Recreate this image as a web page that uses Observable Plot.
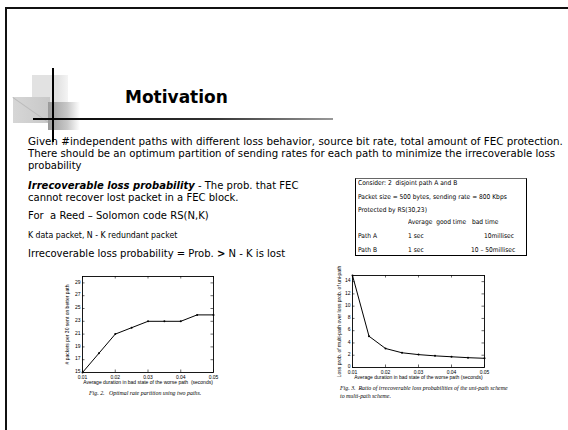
<!DOCTYPE html>
<html><head><meta charset="utf-8">
<script src="https://cdn.jsdelivr.net/npm/d3@7"></script>
<script src="https://cdn.jsdelivr.net/npm/@observablehq/plot@0.6"></script>
<style>
body{margin:0;background:#fff;}
#slide{position:relative;width:568px;height:430px;overflow:hidden;background:#fff;font-family:"DejaVu Sans",sans-serif;color:#000;}
.a{position:absolute;white-space:nowrap;transform-origin:0 0;}
.body{font-size:10.5px;line-height:12px;transform:scaleX(0.955);}
.box{font-size:6.6px;line-height:8px;transform:scaleX(0.9);}
.cap{font-family:"Liberation Serif",serif;font-style:italic;font-size:5.9px;line-height:7px;}
</style></head><body>
<div id="slide">
  <!-- slide frame -->
  <div class="a" style="left:5px;top:7px;width:600px;height:500px;border-left:2px solid #111;border-top:2px solid #111;"></div>
  <!-- decorations -->
  <div class="a" style="left:32px;top:75px;width:36px;height:42px;background:linear-gradient(90deg,#e2e2e2,#e2e2e2 70%,#f4f4f4);"></div>
  <div class="a" style="left:13px;top:97px;width:37px;height:26px;background:linear-gradient(90deg,#d6d6d6,#c8c8c8);"></div>
  <div class="a" style="left:13px;top:97px;width:44px;height:1px;background:#bbb;transform:rotate(35deg);"></div>
  <div class="a" style="left:48px;top:102px;width:32px;height:28px;background:linear-gradient(90deg,#9a9a9a,#c8c8c8 60%,#fff);"></div>
  <div class="a" style="left:33px;top:118px;width:300px;height:2px;background:linear-gradient(90deg,#000,#333 60%,#999);"></div>
  <div class="a" style="left:52px;top:68px;width:2px;height:74px;background:#000;"></div>
  <div class="a" style="left:125px;top:89px;font-weight:bold;font-size:17px;line-height:17px;">Motivation</div>

  <div class="a body" style="left:28px;top:135px;transform:scaleX(0.985);">Given #independent paths with different loss behavior, source bit rate, total amount of FEC protection.</div>
  <div class="a body" style="left:28px;top:147px;transform:scaleX(0.97);">There should be an optimum partition of sending rates for each path to minimize the irrecoverable loss</div>
  <div class="a body" style="left:28px;top:159px;">probability</div>
  <div class="a body" style="left:28px;top:179px;"><b><i>Irrecoverable loss probability</i></b> - The prob. that FEC</div>
  <div class="a body" style="left:28px;top:191px;">cannot recover lost packet in a FEC block.</div>
  <div class="a body" style="left:28px;top:209px;">For &nbsp;a Reed – Solomon code RS(N,K)</div>
  <div class="a body" style="left:28px;top:229px;font-size:8.2px;">K data packet, N - K redundant packet</div>
  <div class="a body" style="left:28px;top:247px;">Irrecoverable loss probability = Prob. <b>&gt;</b> N - K is lost</div>

  <!-- info box -->
  <div class="a" style="left:355px;top:178px;width:172px;height:78px;border:1px solid #000;border-top-color:#666;box-sizing:border-box;"></div>
  <div class="a box" style="left:358px;top:179px;">Consider: 2 &nbsp;disjoint path A and B</div>
  <div class="a box" style="left:358px;top:193px;">Packet size = 500 bytes, sending rate = 800 Kbps</div>
  <div class="a box" style="left:358px;top:206px;">Protected by RS(30,23)</div>
  <div class="a box" style="left:408px;top:218px;">Average &nbsp;good time &nbsp;&nbsp;bad time</div>
  <div class="a box" style="left:358px;top:232px;">Path A</div>
  <div class="a box" style="left:408px;top:232px;">1 sec</div>
  <div class="a box" style="left:484px;top:232px;">10millisec</div>
  <div class="a box" style="left:358px;top:246px;">Path B</div>
  <div class="a box" style="left:408px;top:246px;">1 sec</div>
  <div class="a box" style="left:471px;top:246px;">10 – 50millisec</div>

  <div id="chart1" class="a" style="left:40px;top:266px;"></div>
  <div id="chart2" class="a" style="left:320px;top:265px;"></div>

  <div class="a cap" style="left:89px;top:390px;">Fig. 2. &nbsp;&nbsp;Optimal rate partition using two paths.</div>
  <div class="a cap" style="left:340px;top:385px;">Fig. 3. &nbsp;Ratio of irrecoverable loss probabilities of the uni-path scheme</div>
  <div class="a cap" style="left:340px;top:393px;">to multi-path scheme.</div>
</div>
<script>
// ---- data ----
const badStateDuration = [0.01, 0.015, 0.02, 0.025, 0.03, 0.035, 0.04, 0.045, 0.05];
const packetsOnBetterPath = [15, 18, 21, 22, 23, 23, 23, 24, 24];
const lossRatioMultiToUni = [15, 5.1, 3.1, 2.4, 2.1, 1.9, 1.75, 1.6, 1.5];
const xTicks = [0.01, 0.02, 0.03, 0.04, 0.05];
const yTicksFig2 = [15, 17, 19, 21, 23, 25, 27, 29];
const yTicksFig3 = [0, 2, 4, 6, 8, 10, 12, 14];

function chart({values, yDomain, yTicks, yLabel, xLabel, width, height, ml, mr, mt, mb, yLabelOffset, xLabelOffset}) {
  const data = badStateDuration.map((x, i) => ({x, y: values[i]}));
  const iw = width - ml - mr, ih = height - mt - mb, t = 2.5;
  return Plot.plot({
    width, height, marginLeft: ml, marginRight: mr, marginTop: mt, marginBottom: mb,
    style: {fontFamily: "'Liberation Sans', Arial, sans-serif", fontSize: "5px", color: "#000", background: "transparent", overflow: "visible"},
    x: {domain: [0.01, 0.05]},
    y: {domain: yDomain},
    marks: [
      Plot.axisX({ticks: xTicks, tickSize: 0, tickPadding: 2.5, tickFormat: d3.format(".2f"), label: xLabel, labelAnchor: "center", labelOffset: xLabelOffset, labelArrow: "none"}),
      Plot.axisY({ticks: yTicks, tickSize: 0, tickPadding: 2, dy: -1, label: yLabel, labelAnchor: "center", labelOffset: yLabelOffset, labelArrow: "none"}),
      Plot.tickX(xTicks, {x: d => d, insetTop: ih - t, stroke: "#000", strokeWidth: 0.6}),
      Plot.tickX(xTicks, {x: d => d, insetBottom: ih - t, stroke: "#000", strokeWidth: 0.6}),
      Plot.tickY(yTicks, {y: d => d, insetRight: iw - t, stroke: "#000", strokeWidth: 0.6}),
      Plot.tickY(yTicks, {y: d => d, insetLeft: iw - t, stroke: "#000", strokeWidth: 0.6}),
      Plot.frame({stroke: "#000", strokeWidth: 0.9}),
      Plot.line(data, {x: "x", y: "y", stroke: "#000", strokeWidth: 1}),
      Plot.dot(data, {x: "x", y: "y", r: 1, fill: "#000", stroke: null})
    ]
  });
}

document.getElementById("chart1").append(chart({
  values: packetsOnBetterPath, yDomain: [15, 30], yTicks: yTicksFig2,
  yLabel: "# packets per 30 sent on better path",
  xLabel: "Average duration in bad state of the worse path  (seconds)",
  width: 190, height: 120, ml: 42, mr: 17, mt: 10, mb: 14, yLabelOffset: 17, xLabelOffset: 11
}));
document.getElementById("chart2").append(chart({
  values: lossRatioMultiToUni, yDomain: [0, 15], yTicks: yTicksFig3,
  yLabel: "Loss prob. of multi-path over loss prob. of uni-path",
  xLabel: "Average duration in bad state of the worse path (seconds)",
  width: 180, height: 118, ml: 32, mr: 16, mt: 10, mb: 16, yLabelOffset: 15, xLabelOffset: 11
}));
</script>
</body></html>
